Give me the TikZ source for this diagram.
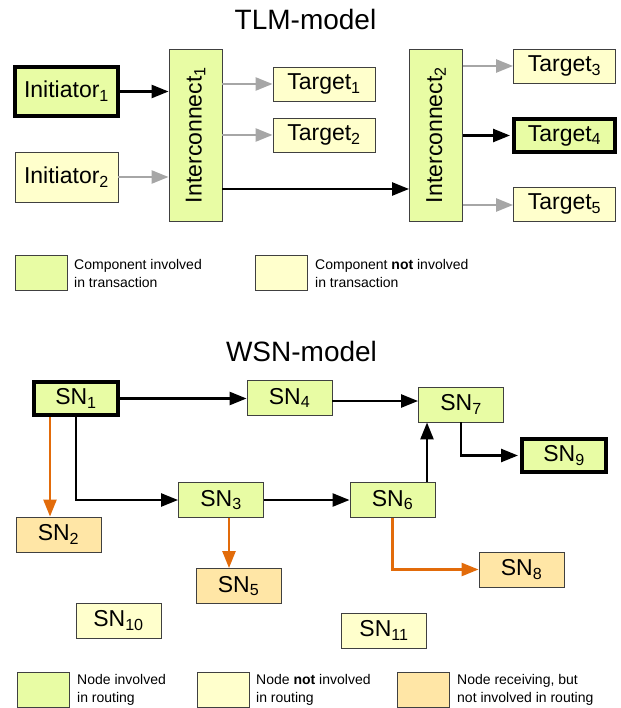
\documentclass[tikz,border=0pt]{standalone}
\usepackage{fontspec}
\setmainfont{Liberation Sans}
\usepackage{graphicx}
\usetikzlibrary{arrows.meta}
\definecolor{cgreen}{RGB}{232,252,164}
\definecolor{cyellow}{RGB}{255,255,204}
\definecolor{corange}{RGB}{255,230,166}
\definecolor{boxline}{RGB}{64,64,64}
\definecolor{lgray}{RGB}{166,166,166}
\definecolor{lorange}{RGB}{226,107,10}
\begin{document}
\begin{tikzpicture}[x=1pt,y=-1pt,
  box/.style={draw=boxline, line width=0.9pt, inner sep=0pt, text=black,
    font=\fontsize{23}{27}\selectfont},
  inv/.style={box, fill=cgreen},
  notinv/.style={box, fill=cyellow},
  recv/.style={box, fill=corange},
  boldbox/.style={draw=black, line width=4pt},
  tlmsize/.style={minimum width=102pt, minimum height=34pt},
  icsize/.style={minimum width=53pt, minimum height=172pt},
  snsize/.style={minimum width=85pt, minimum height=35pt},
  legbox/.style={draw=boxline, line width=0.9pt, minimum width=52pt, minimum height=35pt, inner sep=0pt},
  legtext/.style={anchor=west, align=left, inner sep=0pt, font=\fontsize{14}{18}\selectfont},
  title/.style={anchor=base, inner sep=0pt, font=\fontsize{28}{32}\selectfont},
  tip/.style={-{Triangle[length=17pt,width=13pt]}},
  barr/.style={tip, draw=black, line width=2.5pt},
  garr/.style={tip, draw=lgray, line width=2.5pt},
  oarr/.style={tip, draw=lorange, line width=2.5pt},
]
\useasboundingbox (0,0) rectangle (620,708);

% ---------------- TLM model ----------------
\node[title] (tlmtitle) at (305.5,30) {TLM-model};

\node[inv, boldbox, minimum width=103pt, minimum height=49pt] (init1) at (66.5,91.5) {Initiator\textsubscript{1}};
\node[notinv, minimum width=103pt, minimum height=50pt] (init2) at (66.5,177) {Initiator\textsubscript{2}};
\node[inv, icsize] (ic1) at (195.5,135) {\rotatebox{90}{Interconnect\textsubscript{1}}};
\node[notinv, tlmsize] (t1) at (324,84) {Target\textsubscript{1}};
\node[notinv, tlmsize] (t2) at (324,135) {Target\textsubscript{2}};
\node[inv, icsize] (ic2) at (436,135) {\rotatebox{90}{Interconnect\textsubscript{2}}};
\node[notinv, tlmsize] (t3) at (564.5,66) {Target\textsubscript{3}};
\node[inv, boldbox, minimum width=101pt, minimum height=33pt] (t4) at (564.5,135.5) {Target\textsubscript{4}};
\node[notinv, tlmsize] (t5) at (564.5,204) {Target\textsubscript{5}};

\draw[barr] (init1.east) -- (init1.east -| ic1.west);
\draw[garr] (init2.east) -- (init2.east -| ic1.west);
\draw[garr] (t1.west -| ic1.east) -- (t1.west);
\draw[garr] (t2.west -| ic1.east) -- (t2.west);
\draw[barr] ([yshift=-54pt]ic1.east) -- ([yshift=-54pt]ic1.east -| ic2.west);
\draw[garr] (t3.west -| ic2.east) -- (t3.west);
\draw[barr, shorten >=2pt] (t4.west -| ic2.east) -- (t4.west);
\draw[garr] ([yshift=-1pt]t5.west -| ic2.east) -- ([yshift=-1pt]t5.west);

% legend 1
\node[legbox, fill=cgreen] (lg1) at (41,272.5) {};
\node[legtext] (lg1t) at (74,273) {Component involved\\in transaction};
\node[legbox, fill=cyellow] (lg2) at (281,272.5) {};
\node[legtext] (lg2t) at (315,273) {Component \textbf{not} involved\\in transaction};

% ---------------- WSN model ----------------
\node[title] (wsntitle) at (301.5,361.5) {WSN-model};

\node[inv, boldbox, minimum width=84pt, minimum height=33pt] (sn1) at (76,398.5) {SN\textsubscript{1}};
\node[recv, snsize] (sn2) at (58.5,534.5) {SN\textsubscript{2}};
\node[inv, snsize] (sn3) at (221,500) {SN\textsubscript{3}};
\node[inv, snsize] (sn4) at (289.5,398) {SN\textsubscript{4}};
\node[recv, snsize] (sn5) at (238.5,586) {SN\textsubscript{5}};
\node[inv, snsize] (sn6) at (392.5,500) {SN\textsubscript{6}};
\node[inv, snsize] (sn7) at (461,404.5) {SN\textsubscript{7}};
\node[recv, snsize] (sn8) at (521.5,569.5) {SN\textsubscript{8}};
\node[inv, boldbox, minimum width=84pt, minimum height=33pt] (sn9) at (564,455.5) {SN\textsubscript{9}};
\node[notinv, snsize] (sn10) at (118.5,620.5) {SN\textsubscript{10}};
\node[notinv, snsize] (sn11) at (384,630.5) {SN\textsubscript{11}};

\draw[barr] (sn1.east) -- (sn1.east -| sn4.west);
\draw[oarr] ([xshift=-26pt]sn1.south) -- ([xshift=-26pt]sn1.south |- sn2.north);
\draw[barr] (sn1.south) |- (sn3.west);
\draw[barr] (sn3.east) -- (sn6.west);
\draw[oarr] ([xshift=8pt]sn3.south) -- ([xshift=8pt]sn3.south |- sn5.north);
\draw[barr] ([yshift=-3pt]sn4.east) -- ([yshift=-3pt]sn4.east -| sn7.west);
\draw[barr] ([xshift=34.5pt]sn6.north) -- ([xshift=34.5pt]sn6.north |- sn7.south);
\draw[oarr] (sn6.south) |- (sn8.west);
\draw[barr, shorten >=2pt] (sn7.south) |- (sn9.west);

% legend 2
\node[legbox, fill=cgreen] (lw1) at (43,689.5) {};
\node[legtext] (lw1t) at (77,689.5) {Node involved\\in routing};
\node[legbox, fill=cyellow] (lw2) at (223,689.5) {};
\node[legtext] (lw2t) at (256,689.5) {Node \textbf{not} involved\\in routing};
\node[legbox, fill=corange] (lw3) at (423.5,689.5) {};
\node[legtext] (lw3t) at (457,689.5) {Node receiving, but\\not involved in routing};
\end{tikzpicture}
\end{document}
